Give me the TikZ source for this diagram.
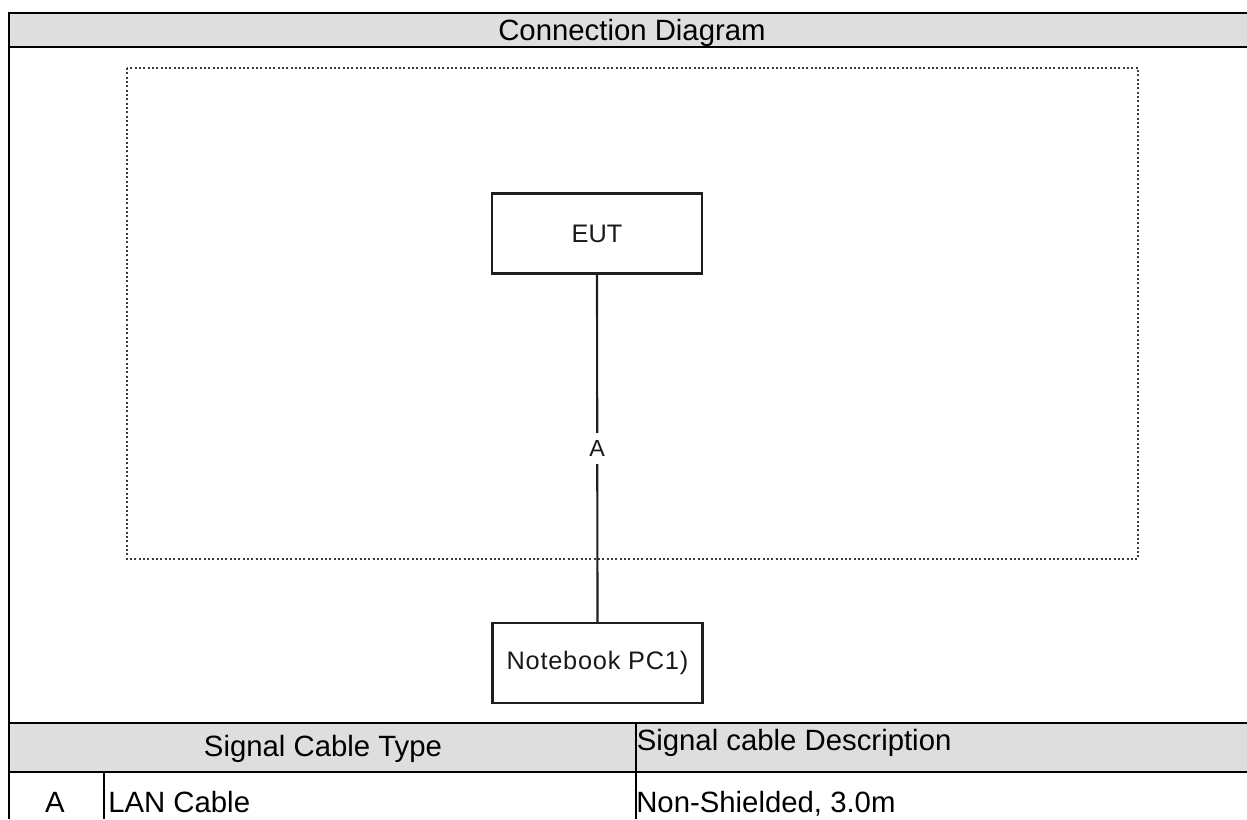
\documentclass[tikz,border=0pt]{standalone}
\usepackage{fontspec}
\setmainfont{Liberation Sans}
\definecolor{hdrgray}{RGB}{222,222,222}
\definecolor{boxline}{RGB}{30,30,30}
\definecolor{dotgray}{RGB}{60,60,60}
\tikzset{
  rule/.style={line width=1.8pt, black},
  hdrfill/.style={fill=hdrgray, draw=none},
  celltext/.style={inner sep=0pt, font=\fontsize{22}{26}\selectfont},
  devbox/.style={draw=boxline, line width=1.6pt, minimum width=157.5pt, minimum height=60pt,
    inner sep=0pt, text=black!90, font=\fontsize{19}{23}\selectfont},
  cable/.style={draw=boxline, line width=1.6pt},
  cablelabel/.style={fill=white, inner xsep=3pt, inner ysep=5.6pt, text=black!90,
    font=\fontsize{17.5}{21}\selectfont},
  areaframe/.style={draw=dotgray, line width=1.6pt, dash pattern=on 1.6pt off 1.65pt}
}
\begin{document}
\begin{tikzpicture}[x=0.75pt, y=-0.75pt]
  \useasboundingbox (0,0) rectangle (1247,819);
  \fill[white] (0,0) rectangle (1247,819);

  % shaded header rows
  \path[hdrfill] (9,13) rectangle (1247,47);
  \path[hdrfill] (9,723) rectangle (1247,772);

  % table rules
  \draw[rule] (1247,13) -- (9,13) -- (9,819);
  \draw[rule] (9,47) -- (1247,47);
  \draw[rule] (9,723) -- (1247,723);
  \draw[rule] (9,772) -- (1247,772);
  \draw[rule] (636,723) -- (636,819);
  \draw[rule] (104,772) -- (104,819);

  % table texts
  \node[celltext, anchor=base] (title) at (632,40) {Connection Diagram};
  \node[celltext, anchor=base] (typehead) at (323,756) {Signal Cable Type};
  \node[celltext, anchor=base west] (deschead) at (636.5,750) {Signal cable Description};
  \node[celltext, anchor=base] (rowid) at (55,812) {A};
  \node[celltext, anchor=base west] (rowtype) at (108,812) {LAN Cable};
  \node[celltext, anchor=base west] (rowdesc) at (636,812) {Non-Shielded, 3.0m};

  % dotted test area
  \draw[areaframe] (127,68) rectangle (1138,559);

  % devices and cable
  \node[devbox] (eut) at (597,233.5) {EUT};
  \node[devbox] (pc) at (597.5,663) {\addfontfeature{LetterSpace=3}Notebook PC1)};
  \draw[cable] (eut.south) -- node[cablelabel] (cableA) {A} (pc.north);
\end{tikzpicture}
\end{document}
